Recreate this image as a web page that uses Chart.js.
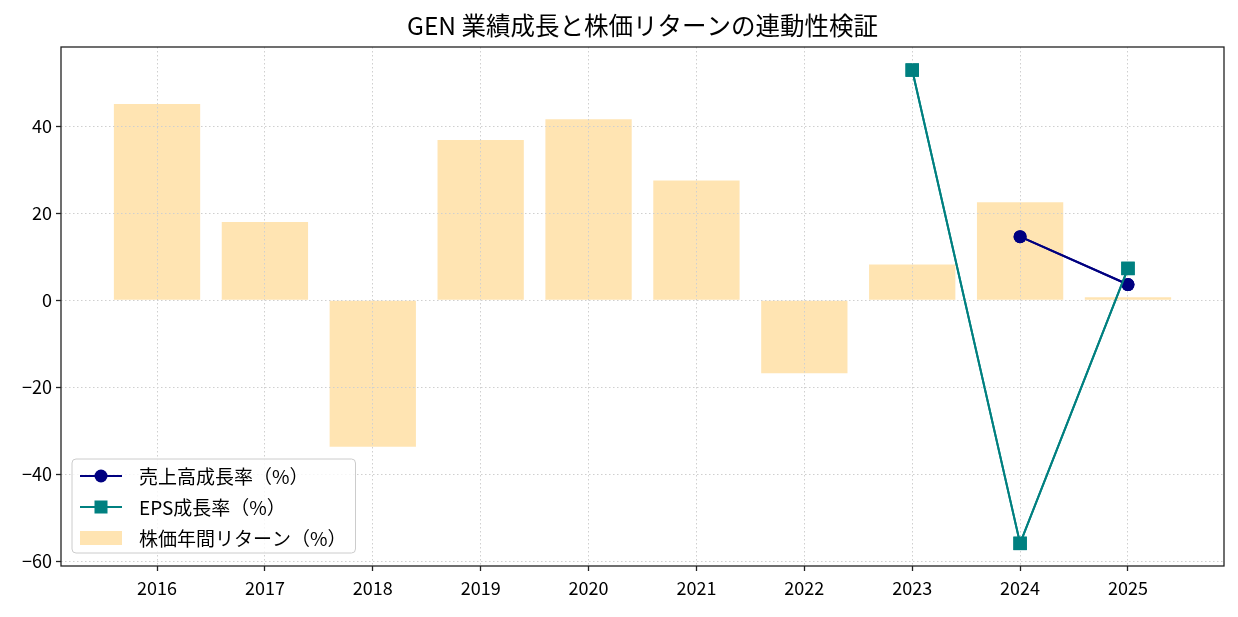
<!DOCTYPE html>
<html>
<head>
<meta charset="utf-8">
<script src="https://cdn.jsdelivr.net/npm/chart.js@4.4.1/dist/chart.umd.min.js"></script>
<style>
  html, body { margin: 0; padding: 0; background: #fff; }
  #wrap { width: 1238px; height: 617px; }
</style>
</head>
<body>
<div id="wrap"><canvas id="growthChart" width="1238" height="617"></canvas></div>
<script>
// Chart data
const chartTitle = 'GEN 業績成長と株価リターンの連動性検証';
const years = ['2016', '2017', '2018', '2019', '2020', '2021', '2022', '2023', '2024', '2025'];
const salesGrowth = [null, null, null, null, null, null, null, null, 14.6, 3.6];
const epsGrowth = [null, null, null, null, null, null, null, 52.9, -55.9, 7.3];
const stockReturn = [45.1, 18.0, -33.7, 36.8, 41.6, 27.5, -16.8, 8.2, 22.5, 0.7];
const yTicks = [-60, -40, -20, 0, 20, 40];

const FONT = '"Noto Sans CJK JP", "Noto Sans", sans-serif';
const toPoints = arr => arr.map((v, i) => ({ x: i, y: v }));

// matplotlib-like frame, title and legend drawn on the canvas
const framePlugin = {
    id: 'frame',
    afterDraw(chart) {
        const { ctx, chartArea: a } = chart;

        // lines go over the dotted grid, like matplotlib zorder
        chart.data.datasets.forEach((ds, i) => {
            if (ds.type === 'line') chart.getDatasetMeta(i).controller.draw();
        });

        ctx.save();
        ctx.strokeStyle = '#222';
        ctx.lineWidth = 1.3;
        ctx.strokeRect(a.left, a.top, a.right - a.left, a.bottom - a.top);

        // title
        ctx.fillStyle = '#000';
        ctx.font = '24.5px ' + FONT;
        ctx.textAlign = 'center';
        ctx.textBaseline = 'middle';
        ctx.fillText(chartTitle, (a.left + a.right) / 2, 26);

        // legend, lower left
        const order = [0, 1, 2];
        ctx.font = '19px ' + FONT;
        const textW = Math.max(...order.map(i => ctx.measureText(chart.data.datasets[i].label).width));
        const boxX = a.left + 11, boxW = 67 + textW + 9, boxH = 94;
        const boxY = a.bottom - 13 - boxH;
        ctx.fillStyle = 'rgba(255,255,255,0.8)';
        ctx.strokeStyle = '#cccccc';
        ctx.lineWidth = 1;
        ctx.beginPath();
        ctx.roundRect(boxX, boxY, boxW, boxH, 4);
        ctx.fill();
        ctx.stroke();

        order.forEach((di, row) => {
            const ds = chart.data.datasets[di];
            const cy = boxY + 17 + row * 31;
            if (ds.type === 'line') {
                ctx.strokeStyle = ds.borderColor;
                ctx.lineWidth = 2;
                ctx.beginPath();
                ctx.moveTo(boxX + 8, cy);
                ctx.lineTo(boxX + 50, cy);
                ctx.stroke();
                ctx.fillStyle = ds.borderColor;
                if (ds.pointStyle === 'rect') {
                    ctx.fillRect(boxX + 29 - 6.5, cy - 6.5, 13, 13);
                } else {
                    ctx.beginPath();
                    ctx.arc(boxX + 29, cy, 6.5, 0, Math.PI * 2);
                    ctx.fill();
                }
            } else {
                ctx.fillStyle = ds.backgroundColor;
                ctx.fillRect(boxX + 8, cy - 7, 42, 14);
            }
            ctx.fillStyle = '#000';
            ctx.textAlign = 'left';
            ctx.fillText(ds.label, boxX + 67, cy + 1);
        });
        ctx.restore();
    }
};

const ctx = document.getElementById('growthChart').getContext('2d');
new Chart(ctx, {
    type: 'bar',
    data: {
        datasets: [{
            type: 'line',
            label: '売上高成長率（%）',
            data: toPoints(salesGrowth),
            borderColor: '#000080',
            backgroundColor: '#000080',
            borderWidth: 2,
            pointStyle: 'circle',
            pointRadius: 6.5,
            pointBorderWidth: 0,
            order: 0
        }, {
            type: 'line',
            label: 'EPS成長率（%）',
            data: toPoints(epsGrowth),
            borderColor: '#008080',
            backgroundColor: '#008080',
            borderWidth: 2,
            pointStyle: 'rect',
            pointRadius: 9.5,
            pointBorderWidth: 0,
            order: 0
        }, {
            type: 'bar',
            label: '株価年間リターン（%）',
            data: toPoints(stockReturn),
            backgroundColor: 'rgba(255,165,0,0.3)',
            barPercentage: 0.8,
            categoryPercentage: 1.0,
            order: 1
        }]
    },
    options: {
        responsive: false,
        animation: false,
        devicePixelRatio: 1,
        layout: { padding: { top: 47, right: 14, left: 0, bottom: 0 } },
        plugins: {
            legend: { display: false },
            title: { display: false },
            tooltip: { enabled: false }
        },
        scales: {
            x: {
                type: 'linear',
                offset: false,
                min: -0.89,
                max: 9.89,
                afterBuildTicks: axis => { axis.ticks = years.map((_, i) => ({ value: i })); },
                afterFit: axis => { axis.height = 51; },
                ticks: {
                    autoSkip: false,
                    maxRotation: 0,
                    padding: 6,
                    color: '#000',
                    font: { family: FONT, size: 18 },
                    callback: v => years[v]
                },
                grid: { offset: false, color: '#cfcfcf', lineWidth: 1, tickLength: 5, tickColor: '#222', tickWidth: 1.3, z: 1 },
                border: { display: false, dash: [1.5, 2.5] }
            },
            y: {
                min: -61.1,
                max: 58.2,
                afterBuildTicks: axis => { axis.ticks = yTicks.map(v => ({ value: v })); },
                afterFit: axis => { axis.width = 61; },
                ticks: {
                    padding: 4,
                    color: '#000',
                    font: { family: FONT, size: 18 },
                    callback: v => String(v).replace('-', '\u2212')
                },
                grid: { color: '#cfcfcf', lineWidth: 1, tickLength: 5, tickColor: '#222', tickWidth: 1.3, z: 1 },
                border: { display: false, dash: [1.5, 2.5] }
            }
        }
    },
    plugins: [framePlugin]
});
</script>
</body>
</html>
